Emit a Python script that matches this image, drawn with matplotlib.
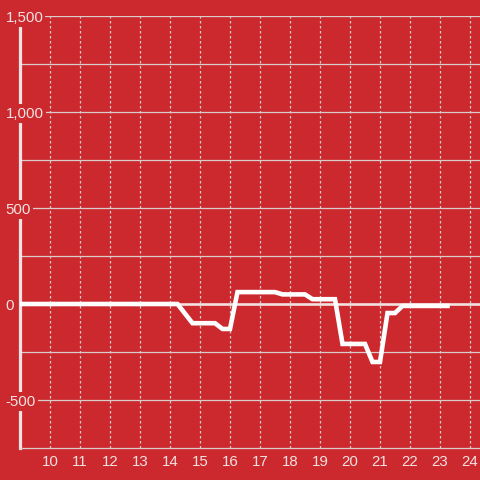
import matplotlib
matplotlib.use("Agg")
import matplotlib.pyplot as plt

# valores (hora do dia x saldo)
horas = [9.0, 14.25, 14.75, 15.5, 15.75, 16.0, 16.25, 17.5, 17.75, 18.5, 18.75,
         19.5, 19.75, 20.5, 20.75, 21.0, 21.25, 21.5, 21.75, 23.25]
saldo = [0, 0, -100, -100, -130, -130, 62, 62, 50, 50, 25,
         25, -208, -208, -302, -302, -47, -47, -10, -10]

xticks = list(range(10, 25))
yticks = [-500, 0, 500, 1000, 1500]
ygrid = [-500, -250, 250, 500, 750, 1000, 1250, 1500]

fundo = "#cc292e"
texto = "#f3e2e2"
grade = "#d8cccc"

plt.rcParams["font.family"] = ["Liberation Sans", "DejaVu Sans"]

fig = plt.figure(figsize=(4.8, 4.8), dpi=100, facecolor=fundo)
ax = fig.add_axes([20 / 480, 32 / 480, 460 / 480, 432 / 480], facecolor=fundo)

ax.set_xlim(9, 9 + 460 / 30)
ax.set_ylim(-750, 1500)

# grade horizontal (sólida) e vertical (pontilhada)
for y in ygrid:
    ax.axhline(y, color=grade, lw=0.9, zorder=1)
ax.set_xticks(xticks)
ax.set_xticklabels([str(x) for x in xticks])
ax.grid(True, axis="x", color=grade, lw=0.9, linestyle=(0, (2, 2)))
ax.grid(False, axis="y")

ax.set_yticks(yticks)
ax.set_yticklabels([f"{v:,}" for v in yticks])

for s in ["top", "right"]:
    ax.spines[s].set_visible(False)
ax.spines["left"].set_color(texto)
ax.spines["left"].set_linewidth(2.3)
ax.spines["bottom"].set_color(grade)
ax.spines["bottom"].set_linewidth(0.9)

ax.axhline(0, color=texto, lw=1.9, zorder=2.6)
ax.yaxis.set_zorder(2.8)

ax.tick_params(axis="x", length=0, pad=5, labelsize=10.8, labelcolor=texto)
ax.tick_params(axis="y", length=0, pad=10.5, labelsize=10.8, labelcolor=texto)
for lbl in ax.get_yticklabels():
    lbl.set_horizontalalignment("left")
    lbl.set_bbox(dict(facecolor=fundo, edgecolor="none", pad=1.5))

ax.plot(horas, saldo, color="white", lw=3.3, zorder=3, solid_joinstyle="miter")

fig.savefig("out.png", dpi=100, facecolor=fundo)
